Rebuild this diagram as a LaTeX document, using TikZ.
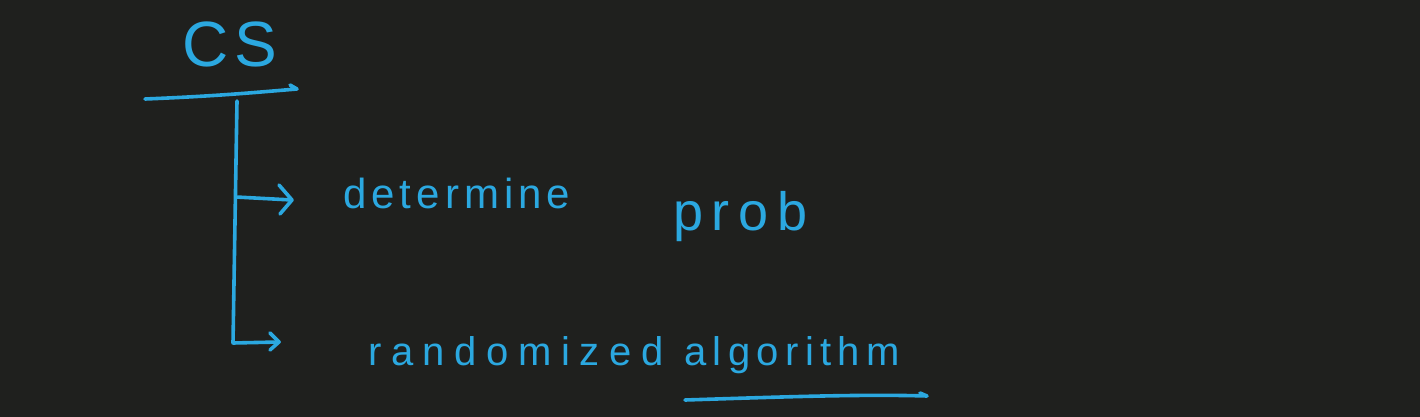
\documentclass[tikz,border=0pt]{standalone}
\usepackage{fontspec}
\setmainfont{Liberation Sans}
\definecolor{bg}{HTML}{1F201E}
\definecolor{ink}{HTML}{2BA8E0}
\begin{document}
\begin{tikzpicture}[x=1pt,y=-1pt,
  pen/.style={draw=ink,line width=3.6pt,line cap=round,line join=round},
  hand/.style={text=ink,inner sep=0pt,anchor=base west}]
\fill[bg] (0,0) rectangle (1420,417);
\useasboundingbox (0,0) rectangle (1420,417);
% texts
\node[hand,anchor=base,font=\fontsize{64}{64}\selectfont\addfontfeatures{LetterSpace=8}] (cs) at (230,67) {CS};
\node[hand,font=\fontsize{42}{42}\selectfont\addfontfeatures{LetterSpace=12}] (det) at (343,208) {determine};
\node[hand,font=\fontsize{54}{54}\selectfont\addfontfeatures{LetterSpace=16}] (prob) at (673,230) {prob};
\node[hand,font=\fontsize{40}{40}\selectfont\addfontfeatures{LetterSpace=24}] (rand) at (368,365) {randomized};
\node[hand,font=\fontsize{40}{40}\selectfont\addfontfeatures{LetterSpace=16}] (alg) at (684,365) {algorithm};
% structure
\coordinate (u1) at (145,99);
\coordinate (u2) at (297,89);
\coordinate (t0) at (237,101);
\coordinate (tb) at (236,197);
\coordinate (t1) at (233,343);
\coordinate (a1) at (292,200);
\coordinate (a2) at (279,342);
\coordinate (v1) at (685,400);
\coordinate (v2) at (927,396);
\draw[pen] (u1) .. controls (220,96) and (260,92) .. (u2) -- ++(-7,-4);
\draw[pen] (t0) -- (t1) -- (a2);
\draw[pen] (tb) -- (a1);
\draw[pen] (a1) ++(-13,-15) -- (a1) -- ++(-12,14);
\draw[pen] (a2) ++(-9,-9) -- (a2) -- ++(-9,8);
\draw[pen] (v1) .. controls (780,397) and (860,394) .. (v2) -- ++(-7,-3);
\end{tikzpicture}
\end{document}
